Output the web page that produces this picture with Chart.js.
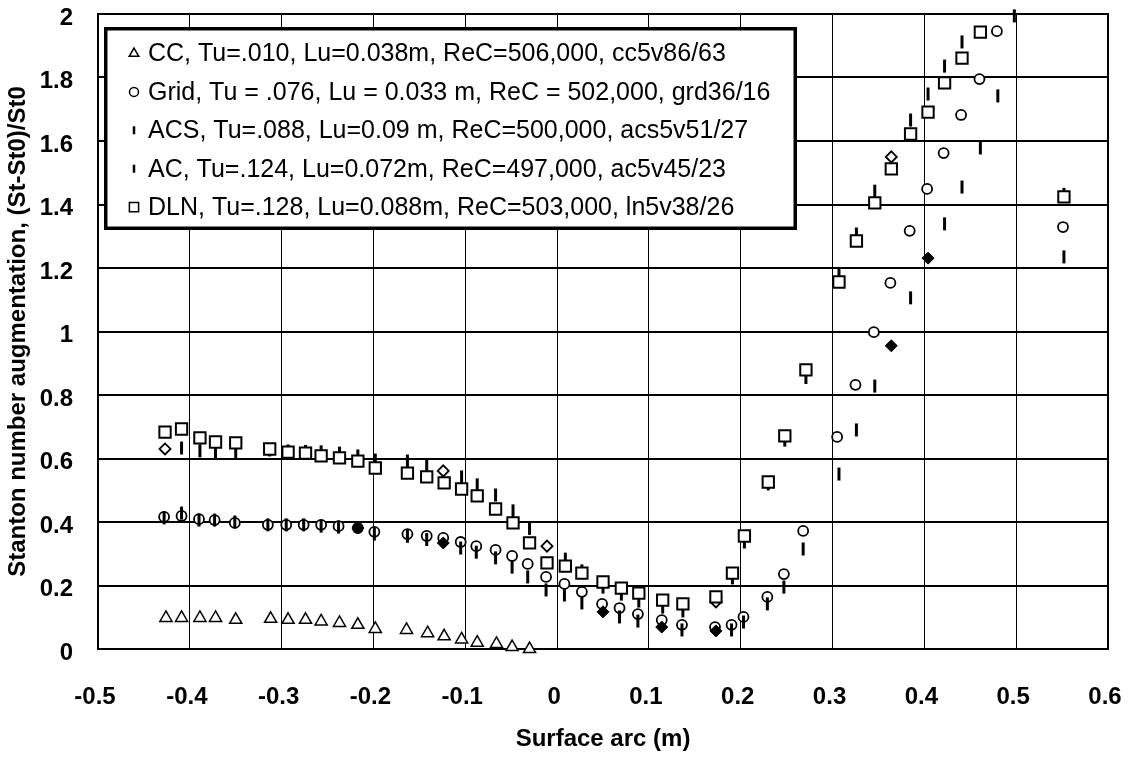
<!DOCTYPE html>
<html>
<head>
<meta charset="utf-8">
<script src="https://cdn.jsdelivr.net/npm/chart.js@4.4.1/dist/chart.umd.min.js"></script>
<style>
  html, body { margin:0; padding:0; background:#fff; }
  #divid { width:1129px; height:759px; position:relative; }
</style>
</head>
<body>
<div id="divid"><canvas id="chart"></canvas></div>
<script>
// surface arc (m) vs (St-St0)/St0 for each run
var ccX=[-0.426,-0.409,-0.389,-0.372,-0.350,-0.312,-0.293,-0.274,-0.257,-0.237,-0.217,-0.198,-0.164,-0.141,-0.123,-0.104,-0.087,-0.066,-0.049,-0.030]
var ccY=[0.098,0.098,0.098,0.098,0.092,0.095,0.092,0.092,0.087,0.082,0.076,0.063,0.060,0.050,0.040,0.030,0.020,0.016,0.006,0.000]

var gridX=[-0.428,-0.409,-0.390,-0.373,-0.351,-0.315,-0.295,-0.276,-0.257,-0.238,-0.217,-0.199,-0.163,-0.142,-0.124,-0.105,-0.088,-0.067,-0.049,-0.032,-0.012,0.008,0.027,0.049,0.068,0.088,0.114,0.136,0.172,0.190,0.203,0.229,0.247,0.268,0.305,0.325,0.345,0.363,0.384,0.403,0.421,0.440,0.460,0.479,0.551]
var gridY=[0.416,0.419,0.409,0.406,0.397,0.391,0.391,0.391,0.391,0.387,0.381,0.369,0.362,0.356,0.350,0.337,0.324,0.312,0.293,0.268,0.227,0.205,0.180,0.142,0.129,0.110,0.091,0.076,0.069,0.076,0.101,0.164,0.236,0.372,0.668,0.832,0.998,1.153,1.317,1.449,1.562,1.682,1.795,1.946,1.329]

var acsX=[-0.428,-0.409,-0.390,-0.373,-0.351,-0.315,-0.295,-0.276,-0.257,-0.238,-0.199,-0.163,-0.142,-0.105,-0.088,-0.067,-0.049,-0.032,-0.012,0.008,0.027,0.068,0.088,0.136,0.190,0.203,0.229,0.247,0.268,0.307,0.326,0.346,0.385,0.422,0.441,0.461,0.480,0.552]
var acsY=[0.413,0.428,0.406,0.406,0.400,0.391,0.391,0.391,0.387,0.384,0.362,0.355,0.345,0.318,0.305,0.287,0.258,0.227,0.186,0.170,0.145,0.101,0.088,0.060,0.060,0.085,0.142,0.195,0.315,0.551,0.690,0.828,1.106,1.339,1.455,1.578,1.742,1.235]

var acX=[-0.409,-0.389,-0.372,-0.350,-0.313,-0.293,-0.274,-0.257,-0.237,-0.217,-0.198,-0.163,-0.142,-0.104,-0.087,-0.067,-0.048,-0.030,0.009,0.027,0.050,0.070,0.089,0.115,0.137,0.191,0.204,0.230,0.248,0.271,0.307,0.326,0.346,0.385,0.404,0.422,0.441,0.498,0.552]
var acY=[0.633,0.624,0.620,0.620,0.627,0.624,0.622,0.621,0.617,0.608,0.595,0.592,0.576,0.542,0.517,0.485,0.435,0.380,0.283,0.246,0.195,0.173,0.151,0.132,0.120,0.224,0.337,0.520,0.658,0.855,1.180,1.307,1.442,1.666,1.748,1.836,1.912,1.994,1.432]

var dlnX=[-0.427,-0.409,-0.389,-0.372,-0.350,-0.313,-0.293,-0.274,-0.257,-0.237,-0.217,-0.198,-0.163,-0.142,-0.123,-0.104,-0.087,-0.067,-0.048,-0.030,-0.011,0.009,0.027,0.050,0.070,0.089,0.115,0.137,0.173,0.191,0.204,0.230,0.248,0.271,0.307,0.326,0.346,0.364,0.385,0.404,0.422,0.441,0.461,0.552]
var dlnY=[0.683,0.693,0.665,0.652,0.649,0.630,0.620,0.617,0.608,0.602,0.592,0.570,0.554,0.542,0.523,0.504,0.482,0.441,0.397,0.334,0.271,0.261,0.239,0.211,0.192,0.176,0.154,0.142,0.164,0.239,0.356,0.526,0.671,0.879,1.156,1.285,1.405,1.512,1.622,1.691,1.783,1.861,1.943,1.424]

// repeat points, not in the key
var openX=[-0.427,-0.124,-0.011,0.173,0.364]
var openY=[0.630,0.561,0.324,0.148,1.550]
var solidX=[-0.217,-0.124,0.050,0.114,0.173,0.364,0.404]
var solidY=[0.381,0.334,0.117,0.069,0.057,0.955,1.231]

var xTickValues=[-0.5,-0.4,-0.3,-0.2,-0.1,0,0.1,0.2,0.3,0.4,0.5,0.6]
var xTickLabels=['-0.5','-0.4','-0.3','-0.2','-0.1','0','0.1','0.2','0.3','0.4','0.5','0.6']
var yTickValues=[0,0.2,0.4,0.6,0.8,1,1.2,1.4,1.6,1.8,2]
var yTickLabels=['0','0.2','0.4','0.6','0.8','1','1.2','1.4','1.6','1.8','2']

var legendLabels=[
  'CC, Tu=.010, Lu=0.038m, ReC=506,000, cc5v86/63',
  'Grid, Tu = .076, Lu = 0.033 m, ReC = 502,000, grd36/16',
  'ACS, Tu=.088, Lu=0.09 m, ReC=500,000, acs5v51/27',
  'AC, Tu=.124, Lu=0.072m, ReC=497,000, ac5v45/23',
  'DLN, Tu=.128, Lu=0.088m, ReC=503,000, ln5v38/26'
]

var fuente='"Liberation Sans", Arial, sans-serif'

toPoints=(xs,ys)=>xs.map((x,i)=>({x:x,y:ys[i]}))

serie=(label,xs,ys,estilo,orden)=>{
  return Object.assign({
    label:label,
    data:toPoints(xs,ys),
    showLine:false,
    clip:false,
    order:orden,
    pointBorderColor:'#000',
    pointBackgroundColor:'#fff'
  },estilo)
}

// fixed axis sizes, no extra room for label overhang
fijar=(s,prop,valor)=>{
  s[prop]=valor
  s.paddingTop=0
  s.paddingBottom=0
  s.paddingLeft=0
  s.paddingRight=0
}

// frame round the plot area + boxed key drawn inside it
var marco={
  id:'marco',
  beforeDatasetsDraw(chart){
    var a=chart.chartArea, c=chart.ctx
    c.save()
    c.strokeStyle='#000'
    c.lineWidth=2
    c.strokeRect(a.left,a.top,a.right-a.left,a.bottom-a.top)
    c.restore()
  },
  afterDraw(chart){
    var a=chart.chartArea, c=chart.ctx
    var x0=a.left+6, y0=a.top+13, w=693, h=203
    c.save()
    c.fillStyle='#fff'
    c.fillRect(x0,y0,w,h)
    c.strokeStyle='#000'
    c.lineWidth=3.5
    c.strokeRect(x0+1.75,y0+1.75,w-3.5,h-3.5)
    var estilos=[
      {pointStyle:'triangle',radius:5.5,borderWidth:1.5,rotation:0},
      {pointStyle:'circle',radius:4.5,borderWidth:1.5,rotation:0},
      {pointStyle:'line',radius:4,borderWidth:2.5,rotation:90},
      {pointStyle:'line',radius:4,borderWidth:2.5,rotation:90},
      {pointStyle:'rect',radius:6.5,borderWidth:1.5,rotation:0}
    ]
    c.font='25px '+fuente
    c.textBaseline='middle'
    c.textAlign='left'
    legendLabels.forEach((txt,i)=>{
      var yy=y0+26.5+i*38.4
      c.fillStyle='#fff'
      c.strokeStyle='#000'
      c.lineWidth=estilos[i].borderWidth
      Chart.helpers.drawPoint(c,estilos[i],x0+30,yy)
      c.fillStyle='#000'
      c.fillText(txt,x0+44,yy+1)
    })
    c.restore()
  }
}

var canvas=document.getElementById('chart')
var ctx=canvas.getContext('2d')
var myChart=new Chart(ctx,{
  type:'scatter',
  data:{
    datasets:[
      serie('CC',ccX,ccY,{pointStyle:'triangle',pointRadius:7,pointBorderWidth:1.5},6),
      serie('Grid',gridX,gridY,{pointStyle:'circle',pointRadius:5,pointBorderWidth:1.8},5),
      serie('ACS',acsX,acsY,{pointStyle:'line',pointRadius:6.5,pointBorderWidth:3,pointRotation:90},4),
      serie('AC',acX,acY,{pointStyle:'line',pointRadius:6.5,pointBorderWidth:3,pointRotation:90},3),
      serie('DLN',dlnX,dlnY,{pointStyle:'rect',pointRadius:8,pointBorderWidth:2},2),
      serie('open',openX,openY,{pointStyle:'rectRot',pointRadius:5.5,pointBorderWidth:1.8},7),
      serie('solid',solidX,solidY,{pointStyle:'rectRot',pointRadius:6,pointBorderWidth:1,pointBackgroundColor:'#000'},1)
    ]
  },
  options:{
    responsive:true,
    maintainAspectRatio:false,
    animation:false,
    events:[],
    devicePixelRatio:1,
    layout:{padding:{top:14,right:21,left:0,bottom:0}},
    plugins:{legend:{display:false},tooltip:{enabled:false}},
    scales:{
      x:{
        type:'linear',min:-0.5,max:0.6,
        afterFit:s=>fijar(s,'height',110),
        afterBuildTicks:s=>{s.ticks=xTickValues.map(v=>({value:v}))},
        grid:{color:'#000',lineWidth:1,drawTicks:false},
        border:{display:true,color:'#000',width:2},
        ticks:{color:'#000',font:{family:fuente,size:24,weight:'bold'},padding:34,labelOffset:-3,maxRotation:0,autoSkip:false,
          callback:(v,i)=>xTickLabels[i]},
        title:{display:true,text:'Surface arc (m)',color:'#000',font:{family:fuente,size:24,weight:'bold'},padding:{top:0,bottom:5}}
      },
      y:{
        type:'linear',min:0,max:2,
        afterFit:s=>fijar(s,'width',98),
        afterBuildTicks:s=>{s.ticks=yTickValues.map(v=>({value:v}))},
        grid:{color:'#000',lineWidth:2,drawTicks:false},
        border:{display:true,color:'#000',width:2},
        ticks:{color:'#000',font:{family:fuente,size:24,weight:'bold'},padding:25,labelOffset:4,autoSkip:false,
          callback:(v,i)=>yTickLabels[i]},
        title:{display:true,text:'Stanton number augmentation, (St-St0)/St0',color:'#000',font:{family:fuente,size:24,weight:'bold'},padding:{top:4,bottom:0}}
      }
    }
  },
  plugins:[marco]
})
</script>
</body>
</html>
